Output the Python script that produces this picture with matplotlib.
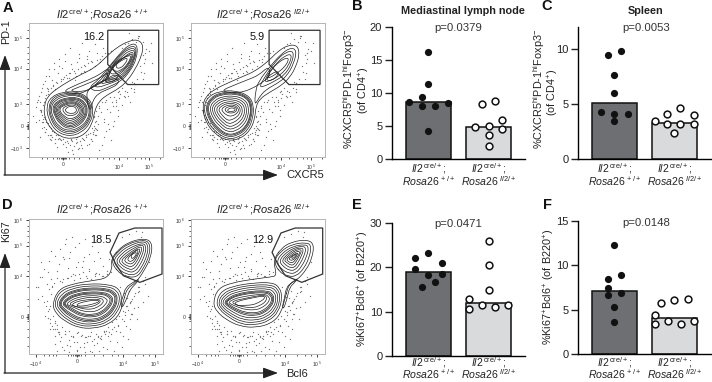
import matplotlib
matplotlib.use("Agg")
from matplotlib import pyplot as plt
from matplotlib.path import Path
from matplotlib.patches import PathPatch, Polygon

plt.rcParams['font.family'] = ['Liberation Sans', 'DejaVu Sans']
plt.rcParams['mathtext.fontset'] = 'custom'
plt.rcParams['mathtext.rm'] = 'Liberation Sans'
plt.rcParams['mathtext.it'] = 'Liberation Sans:italic'
plt.rcParams['mathtext.bf'] = 'Liberation Sans:bold'
plt.rcParams['mathtext.default'] = 'regular'

W, H = 712, 382

# bar panels
group_line1 = [r'$\mathit{Il2}^{\,cre/+}$;', r'$\mathit{Il2}^{\,cre/+}$;']
group_line2 = [r'$\mathit{Rosa26}^{\,+/+}$', r'$\mathit{Rosa26}^{\ \mathit{Il2/+}}$']

b_bars = [8.7, 4.9]
b_wt_x = [0, 0, -0.11, -0.32, 0.32, -0.11, 0.11, 0]
b_wt_y = [16.2, 11.4, 9.4, 8.7, 8.5, 8.0, 8.0, 4.3]
b_ko_x = [0.11, -0.11, 0.22, -0.23, 0, 0.22, 0, 0]
b_ko_y = [8.85, 8.3, 5.9, 4.9, 5.0, 4.5, 3.6, 2.0]

c_bars = [5.1, 3.3]
c_wt_x = [0.11, -0.11, 0, 0, -0.22, 0, 0.22, 0]
c_wt_y = [9.8, 9.5, 7.6, 6.0, 4.3, 4.1, 4.1, 3.5]
c_ko_x = [0.1, -0.12, 0.32, -0.33, -0.12, 0.1, 0.32, 0]
c_ko_y = [4.65, 4.1, 4.0, 3.5, 3.2, 3.2, 3.15, 2.35]

e_bars = [19.0, 12.0]
e_wt_x = [0, -0.22, 0.22, -0.22, 0, 0.22, 0.11, -0.11]
e_wt_y = [23.2, 22.1, 21.0, 19.6, 18.3, 18.4, 16.8, 15.5]
e_ko_x = [0, 0, 0, -0.33, -0.33, -0.11, 0.1, 0.32]
e_ko_y = [25.9, 20.5, 14.8, 12.9, 10.7, 11.5, 11.1, 11.6]

f_bars = [7.15, 4.05]
f_wt_x = [0, 0.11, -0.11, -0.11, -0.11, 0.11, 0, 0]
f_wt_y = [12.3, 8.9, 8.45, 7.5, 6.65, 6.9, 5.3, 3.6]
f_ko_x = [0, -0.22, 0.22, -0.33, -0.33, -0.11, 0.11, 0.33]
f_ko_y = [6.1, 5.8, 6.2, 4.4, 3.4, 3.75, 3.4, 3.75]

# flow plots, x/y in display channels (0-405, y runs downwards)
a_gate = [(238, 22), (392, 22), (392, 186), (298, 186), (238, 125)]
a2_gate = [(236, 22), (390, 22), (390, 186), (296, 186), (236, 125)]
d_gate = [(272, 42), (320, 27), (402, 27), (402, 165), (335, 190), (285, 170), (262, 135), (245, 100)]
d2_gate = [(272, 42), (315, 27), (398, 27), (398, 165), (335, 190), (285, 170), (262, 135), (245, 100)]

a_rings = [
    [(46, 250), (56, 222), (82, 200), (120, 176), (160, 154), (198, 136), (236, 100), (265, 74), (302, 54), (330, 50), (346, 68), (340, 100), (322, 138), (298, 174), (272, 198), (238, 216), (212, 236), (198, 266), (192, 304), (168, 338), (130, 351), (92, 343), (62, 316), (46, 282)],
    [(52, 252), (66, 224), (102, 208), (150, 208), (184, 230), (195, 262), (186, 302), (158, 332), (120, 343), (82, 328), (59, 292)],
    [(58, 255), (72, 225), (105, 212), (150, 212), (180, 232), (190, 262), (182, 300), (155, 326), (120, 337), (85, 322), (65, 290)],
    [(61, 255), (76, 228), (107, 216), (149, 215), (177, 234), (187, 262), (179, 298), (153, 322), (120, 332), (87, 317), (68, 288)],
    [(65, 255), (80, 232), (110, 220), (148, 218), (175, 236), (184, 262), (176, 296), (150, 318), (120, 327), (90, 313), (72, 286)],
    [(70, 255), (85, 236), (112, 226), (146, 224), (170, 240), (178, 262), (170, 292), (146, 313), (120, 321), (94, 306), (78, 282)],
    [(73, 256), (88, 238), (113, 229), (145, 227), (168, 242), (175, 263), (167, 290), (144, 309), (120, 316), (96, 302), (81, 281)],
    [(76, 258), (90, 240), (114, 232), (144, 230), (165, 244), (172, 264), (164, 288), (142, 305), (120, 312), (98, 299), (84, 280)],
    [(80, 258), (94, 243), (116, 235), (143, 234), (161, 247), (168, 265), (160, 286), (140, 301), (120, 307), (101, 295), (87, 278)],
    [(84, 258), (98, 246), (118, 238), (142, 238), (158, 250), (164, 266), (156, 284), (138, 297), (120, 302), (104, 291), (90, 276)],
    [(88, 258), (101, 248), (119, 241), (141, 241), (155, 252), (160, 266), (152, 282), (136, 292), (120, 296), (106, 286), (93, 274)],
    [(92, 258), (104, 250), (120, 244), (140, 244), (152, 254), (156, 266), (148, 280), (134, 288), (120, 290), (108, 282), (96, 272)],
    [(100, 260), (110, 252), (122, 248), (138, 248), (148, 256), (150, 266), (142, 276), (130, 280), (118, 280), (108, 274)],
    [(110, 260), (120, 252), (136, 252), (144, 260), (142, 270), (130, 274), (118, 272), (110, 266)],
    [(100, 208), (140, 188), (180, 172), (215, 155), (240, 135), (245, 160), (225, 178), (195, 192), (170, 208), (145, 215)],
    [(120, 206), (150, 194), (190, 178), (225, 160), (238, 148), (238, 166), (215, 180), (190, 196), (165, 208)],
    [(175, 230), (175, 205), (200, 185), (235, 170), (270, 168), (270, 185), (240, 200), (210, 212), (192, 235), (188, 262), (180, 258)],
    [(180, 195), (210, 172), (240, 135), (268, 100), (300, 66), (328, 62), (326, 108), (304, 148), (278, 176), (240, 194), (205, 208)],
    [(195, 190), (225, 165), (245, 130), (272, 100), (300, 72), (326, 70), (320, 112), (298, 152), (270, 174), (235, 186), (210, 195)],
    [(215, 185), (232, 160), (250, 130), (275, 100), (300, 78), (324, 76), (316, 116), (292, 154), (264, 172), (235, 180)],
    [(228, 178), (238, 155), (255, 128), (280, 102), (302, 84), (322, 82), (312, 118), (288, 152), (260, 168), (240, 174)],
    [(235, 170), (245, 148), (262, 125), (284, 106), (304, 90), (318, 88), (306, 122), (282, 150), (256, 164)],
    [(242, 150), (262, 122), (288, 104), (306, 94), (314, 94), (302, 124), (278, 148), (256, 156)],
    [(250, 130), (270, 112), (296, 100), (310, 98), (298, 126), (274, 146), (258, 146)],
    [(260, 128), (278, 114), (300, 103), (290, 126), (270, 140)],
    [(228, 178), (240, 165), (262, 155), (270, 165), (250, 180)],
]

a2_rings = [
    [(34, 255), (44, 222), (72, 200), (112, 181), (158, 161), (193, 146), (233, 116), (263, 85), (295, 66), (322, 68), (328, 95), (317, 132), (299, 164), (273, 189), (238, 209), (208, 229), (196, 253), (193, 288), (180, 324), (148, 351), (110, 356), (72, 336), (44, 299)],
    [(38, 255), (50, 224), (85, 206), (135, 204), (176, 220), (190, 250), (187, 287), (174, 322), (144, 346), (110, 351), (75, 330), (48, 296)],
    [(44, 255), (58, 226), (90, 210), (135, 208), (172, 222), (186, 250), (183, 285), (170, 318), (142, 340), (110, 345), (78, 325), (54, 292)],
    [(47, 255), (61, 228), (91, 213), (134, 211), (170, 224), (183, 251), (180, 284), (167, 316), (141, 336), (110, 341), (80, 321), (57, 291)],
    [(50, 255), (64, 230), (92, 216), (134, 214), (168, 226), (181, 252), (178, 284), (165, 314), (140, 333), (110, 338), (82, 318), (60, 290)],
    [(56, 256), (70, 234), (96, 222), (132, 220), (163, 231), (175, 254), (172, 284), (160, 308), (137, 326), (111, 330), (87, 312), (66, 288)],
    [(62, 257), (76, 238), (100, 227), (131, 226), (158, 236), (169, 256), (166, 283), (154, 303), (134, 318), (112, 322), (91, 306), (72, 285)],
    [(68, 258), (82, 242), (104, 232), (130, 232), (153, 241), (163, 258), (160, 281), (148, 298), (131, 310), (113, 314), (95, 300), (78, 282)],
    [(75, 259), (88, 246), (107, 238), (130, 238), (148, 246), (156, 260), (153, 279), (142, 292), (128, 301), (113, 305), (98, 293), (84, 279)],
    [(82, 260), (95, 249), (110, 243), (129, 243), (143, 250), (150, 262), (146, 276), (136, 286), (124, 292), (112, 295), (100, 285), (90, 274)],
    [(92, 260), (102, 252), (114, 248), (130, 248), (140, 255), (145, 264), (138, 274), (128, 280), (115, 282), (103, 275), (96, 268)],
    [(102, 260), (112, 253), (128, 252), (138, 258), (138, 266), (128, 272), (114, 272), (105, 267)],
    [(110, 262), (120, 256), (132, 258), (134, 265), (122, 268), (112, 267)],
    [(90, 205), (130, 188), (170, 172), (205, 158), (235, 130), (240, 160), (215, 180), (190, 195), (160, 208), (125, 212)],
    [(195, 205), (205, 175), (240, 130), (270, 96), (300, 74), (320, 82), (310, 125), (288, 162), (262, 182), (225, 202), (205, 226), (192, 250)],
    [(205, 195), (225, 160), (255, 116), (285, 88), (312, 84), (304, 125), (282, 158), (254, 175), (225, 190)],
    [(220, 180), (235, 150), (260, 120), (285, 98), (306, 94), (296, 128), (272, 156), (245, 172)],
    [(228, 168), (242, 142), (265, 118), (290, 104), (296, 112), (282, 134), (262, 150), (245, 162)],
    [(225, 172), (240, 155), (262, 145), (265, 155), (245, 175)],
]

d_rings = [
    [(70, 258), (88, 212), (130, 195), (190, 185), (235, 178), (252, 150), (248, 120), (270, 92), (300, 70), (345, 58), (372, 68), (370, 112), (347, 157), (322, 192), (297, 207), (287, 240), (274, 287), (242, 316), (195, 329), (148, 326), (108, 306), (83, 285)],
    [(76, 255), (92, 218), (130, 202), (180, 194), (240, 196), (272, 208), (282, 240), (268, 280), (238, 310), (195, 322), (150, 320), (112, 300), (88, 278)],
    [(82, 255), (98, 224), (132, 208), (180, 200), (238, 202), (266, 214), (276, 240), (263, 276), (235, 304), (195, 316), (152, 314), (116, 295), (94, 274)],
    [(88, 255), (104, 228), (134, 214), (180, 206), (235, 208), (260, 219), (269, 240), (258, 272), (232, 298), (195, 310), (154, 307), (120, 290), (99, 271)],
    [(91, 255), (107, 230), (135, 217), (180, 209), (233, 211), (257, 222), (266, 240), (255, 270), (230, 295), (195, 306), (155, 303), (122, 286), (102, 270)],
    [(94, 254), (110, 232), (136, 220), (180, 212), (232, 214), (254, 224), (262, 240), (252, 268), (228, 291), (195, 302), (156, 299), (125, 283), (105, 268)],
    [(100, 254), (116, 236), (140, 225), (181, 218), (229, 220), (247, 229), (255, 241), (246, 264), (224, 285), (195, 295), (158, 292), (130, 277), (111, 265)],
    [(103, 254), (119, 238), (142, 228), (181, 221), (227, 223), (244, 232), (251, 242), (243, 262), (222, 281), (195, 291), (159, 288), (132, 274), (114, 263)],
    [(106, 254), (122, 240), (144, 230), (182, 224), (226, 226), (240, 234), (247, 242), (239, 260), (220, 278), (195, 287), (160, 285), (135, 271), (117, 261)],
    [(113, 255), (128, 243), (148, 235), (184, 229), (222, 232), (232, 239), (238, 244), (231, 257), (215, 271), (194, 279), (162, 277), (138, 266), (122, 260)],
    [(120, 256), (135, 246), (154, 240), (186, 234), (216, 237), (226, 244), (222, 254), (208, 264), (190, 271), (164, 270), (143, 263)],
    [(128, 257), (146, 247), (176, 242), (208, 240), (218, 246), (208, 256), (186, 264), (160, 265), (140, 263)],
    [(142, 256), (170, 247), (204, 243), (214, 247), (198, 254), (172, 260), (150, 262)],
    [(248, 125), (270, 96), (300, 74), (345, 62), (366, 72), (364, 110), (345, 150), (325, 176), (290, 172), (265, 155)],
    [(254, 125), (274, 100), (302, 80), (344, 66), (360, 76), (358, 108), (340, 146), (322, 168), (294, 166), (270, 150)],
    [(262, 126), (280, 104), (305, 86), (342, 72), (354, 80), (351, 106), (335, 140), (318, 160), (298, 158), (276, 145)],
    [(270, 126), (286, 108), (308, 92), (340, 76), (348, 84), (344, 104), (330, 134), (315, 152), (300, 150), (282, 140)],
    [(278, 125), (292, 111), (311, 97), (336, 82), (342, 88), (337, 104), (326, 128), (312, 144), (300, 142), (287, 135)],
    [(288, 122), (300, 110), (314, 100), (332, 88), (336, 94), (330, 106), (322, 124), (310, 136), (300, 133), (292, 130)],
    [(298, 118), (310, 106), (328, 92), (330, 100), (322, 116), (310, 128), (300, 126)],
    [(308, 110), (318, 102), (326, 100), (320, 114), (310, 120)],
    [(285, 230), (292, 205), (315, 190), (335, 178), (322, 195), (305, 212), (295, 240), (280, 270), (278, 250)],
]

d2_rings = [
    [(66, 252), (81, 208), (125, 191), (185, 181), (240, 174), (260, 170), (248, 125), (272, 88), (305, 68), (352, 62), (372, 76), (366, 117), (349, 152), (320, 184), (297, 194), (287, 227), (272, 284), (242, 314), (195, 326), (148, 322), (106, 302), (78, 278)],
    [(76, 250), (90, 218), (125, 202), (185, 192), (245, 190), (268, 205), (276, 235), (265, 278), (236, 306), (195, 318), (152, 316), (114, 295), (86, 272)],
    [(82, 250), (96, 224), (128, 208), (185, 198), (242, 197), (263, 210), (270, 236), (260, 274), (233, 300), (195, 311), (154, 309), (118, 290), (91, 269)],
    [(88, 250), (102, 228), (130, 214), (185, 204), (239, 203), (258, 215), (264, 237), (255, 270), (229, 294), (195, 304), (156, 302), (122, 285), (96, 266)],
    [(94, 250), (108, 232), (133, 220), (185, 210), (236, 209), (252, 220), (258, 238), (250, 266), (225, 288), (195, 297), (158, 295), (126, 279), (102, 263)],
    [(100, 250), (114, 236), (137, 225), (185, 216), (233, 215), (246, 225), (252, 239), (244, 262), (221, 282), (195, 290), (160, 288), (130, 274), (108, 260)],
    [(103, 250), (117, 238), (139, 228), (185, 219), (231, 218), (243, 228), (249, 240), (241, 260), (219, 279), (195, 286), (161, 284), (132, 271), (111, 258)],
    [(106, 250), (120, 239), (141, 230), (186, 222), (229, 221), (240, 230), (245, 240), (238, 258), (217, 275), (195, 282), (162, 280), (134, 268), (114, 256)],
    [(113, 250), (128, 241), (147, 235), (188, 228), (225, 225), (235, 234), (238, 241), (231, 254), (213, 267), (194, 273), (164, 272), (138, 263), (120, 255)],
    [(122, 250), (138, 243), (156, 240), (192, 232), (222, 228), (230, 236), (224, 250), (207, 260), (190, 266), (165, 265), (140, 259)],
    [(130, 252), (150, 244), (190, 236), (220, 230), (224, 238), (206, 250), (186, 258), (162, 259), (140, 260)],
    [(250, 125), (272, 96), (305, 76), (348, 70), (364, 80), (358, 114), (342, 148), (318, 172), (293, 172), (265, 158)],
    [(258, 126), (278, 100), (308, 82), (344, 76), (356, 84), (350, 112), (335, 142), (316, 163), (295, 163), (272, 150)],
    [(266, 126), (284, 104), (310, 87), (338, 81), (348, 88), (342, 110), (329, 136), (314, 154), (297, 154), (279, 143)],
    [(274, 125), (290, 107), (312, 91), (334, 86), (340, 92), (335, 108), (324, 130), (312, 146), (299, 146), (285, 137)],
    [(281, 124), (295, 109), (314, 95), (330, 91), (334, 96), (329, 108), (319, 126), (310, 138), (300, 138), (290, 131)],
    [(288, 122), (300, 111), (316, 99), (328, 96), (328, 104), (316, 122), (308, 131), (300, 131), (294, 127)],
    [(296, 119), (306, 110), (318, 103), (324, 102), (314, 119), (306, 124), (299, 123)],
    [(304, 115), (314, 107), (320, 106), (312, 116), (305, 119)],
    [(282, 240), (288, 205), (305, 190), (325, 176), (312, 192), (298, 205), (290, 240), (280, 270), (276, 262)],
]

# background events, shared by the two plots of a row
a_dots_x = [20, 28, 35, 12, 42, 50, 22, 38, 60, 70, 55, 33, 48, 62, 75, 88, 100, 115, 92, 108, 130, 145, 125, 150, 168, 138, 160, 175, 190, 205, 182, 215, 225, 198, 240, 212, 228, 250, 262, 244, 276, 290, 310, 335, 352, 362, 345, 330, 370, 348, 318, 300, 280, 268, 255, 232, 208, 226, 248, 200, 222, 212, 242, 258, 270, 230, 218, 196, 204, 186, 172, 158, 146, 130, 112, 96, 80, 66, 52, 42, 36, 30, 44, 58, 72, 86, 104, 122, 140, 156, 170, 184, 198, 176, 150, 128, 110, 92, 76, 60, 48, 40, 25, 34, 68, 84, 118, 134, 152, 78, 98, 120, 142, 165, 56, 30, 64, 90, 104, 126, 146, 166, 210, 236, 262, 290, 318, 346, 300, 328, 352, 372, 272, 282, 306, 240,
            43, 37, 41, 33, 47, 39, 52, 45, 58, 49, 66, 57, 74, 69, 83, 78, 96, 87, 105, 113, 97, 124, 117, 137, 131, 149, 143, 157, 166, 161, 177, 171, 188, 183, 194, 205, 199, 214, 221, 231, 226, 247, 253, 264, 273, 286, 296, 307, 316, 327, 338, 349, 344, 355, 333, 322, 302, 312, 291, 281, 269, 258, 246, 234, 222, 211, 203, 197, 201, 195, 207, 193, 199, 189, 204, 196, 186, 179, 191, 172, 182, 164, 174, 154, 161, 142, 149, 128, 136, 116, 123, 103, 109, 89, 94, 77, 81, 65, 70, 56, 60, 48, 52, 40, 44, 35]
a_dots_y = [255, 232, 210, 280, 185, 160, 300, 318, 140, 172, 195, 262, 330, 350, 120, 150, 135, 165, 108, 95, 140, 118, 75, 95, 130, 152, 60, 100, 118, 90, 85, 118, 75, 62, 90, 258, 290, 240, 232, 270, 215, 205, 178, 130, 110, 85, 58, 40, 60, 150, 198, 220, 248, 280, 310, 325, 305, 345, 355, 340, 370, 385, 320, 295, 262, 240, 270, 285, 320, 350, 338, 368, 360, 385, 375, 355, 362, 340, 320, 300, 270, 220, 240, 200, 190, 180, 170, 165, 172, 150, 148, 140, 130, 110, 105, 125, 115, 130, 140, 160, 175, 195, 240, 345, 355, 375, 390, 395, 378, 198, 175, 150, 160, 145, 215, 292, 340, 348, 365, 355, 345, 355, 280, 260, 250, 225, 210, 170, 60, 45, 90, 120, 205, 195, 240, 305,
            248, 266, 290, 240, 226, 300, 218, 315, 205, 330, 195, 340, 188, 345, 178, 352, 170, 350, 163, 158, 355, 152, 362, 146, 357, 140, 352, 134, 128, 348, 122, 340, 116, 332, 328, 112, 318, 108, 100, 92, 298, 84, 250, 240, 228, 220, 208, 196, 182, 168, 148, 122, 96, 78, 40, 58, 30, 48, 64, 76, 208, 225, 224, 232, 240, 250, 265, 280, 295, 310, 322, 336, 300, 318, 340, 322, 352, 335, 358, 344, 366, 352, 370, 358, 378, 362, 380, 352, 372, 356, 368, 352, 360, 340, 350, 328, 338, 318, 325, 302, 310, 290, 298, 278, 285, 262]
d_dots_x = [20, 32, 46, 60, 38, 52, 68, 80, 95, 110, 125, 140, 92, 105, 118, 132, 148, 165, 180, 195, 210, 225, 172, 155, 135, 118, 100, 85, 70, 55, 40, 28, 48, 62, 78, 60, 44, 72, 90, 108, 128, 148, 168, 188, 208, 228, 248, 268, 288, 308, 328, 345, 360, 330, 306, 285, 262, 240, 218, 196, 175, 155, 135, 115, 95, 78, 62, 85, 105, 125, 145, 165, 185, 205, 225, 245, 265, 285, 305, 325, 300, 280, 258, 235, 212, 190, 168, 145, 122, 100, 80, 200, 180, 160, 215, 235, 190, 170, 150, 130, 112, 58, 36, 26, 66, 84, 102, 122, 142, 162, 182, 202, 222, 242, 262, 282, 302, 322, 342, 362, 350, 332, 312, 292, 272, 252, 232,
            64, 58, 55, 67, 73, 61, 79, 70, 86, 77, 93, 84, 103, 92, 114, 101, 126, 110, 138, 121, 151, 133, 164, 146, 176, 159, 188, 171, 200, 185, 212, 197, 224, 209, 237, 219, 248, 230, 262, 243, 275, 256, 287, 268, 297, 281, 306, 291, 318, 300, 312, 296, 304, 289, 321, 308, 333, 316, 344, 352, 328, 340, 302, 288, 276, 292, 264, 251, 239, 226, 214, 203, 191, 179, 167, 156, 144, 132, 120, 108, 97, 88, 79, 71, 63, 56]
d_dots_y = [205, 175, 150, 125, 230, 260, 95, 110, 90, 75, 100, 85, 135, 120, 148, 165, 130, 115, 150, 125, 98, 140, 170, 178, 182, 178, 190, 178, 205, 195, 175, 240, 290, 300, 312, 270, 250, 330, 345, 335, 350, 340, 355, 340, 350, 338, 345, 320, 305, 285, 265, 250, 230, 220, 250, 275, 300, 325, 360, 378, 370, 385, 368, 378, 365, 350, 330, 395, 392, 380, 395, 385, 395, 372, 385, 365, 370, 350, 330, 300, 360, 385, 395, 390, 395, 400, 398, 392, 398, 385, 375, 165, 155, 145, 118, 155, 80, 60, 72, 55, 60, 160, 130, 205, 180, 155, 115, 118, 145, 125, 105, 162, 170, 120, 98, 55, 45, 35, 40, 130, 195, 215, 240, 260, 290, 310, 335,
            262, 275, 245, 225, 290, 210, 305, 200, 318, 192, 186, 330, 180, 338, 176, 325, 172, 345, 168, 335, 165, 352, 160, 342, 176, 348, 180, 355, 172, 350, 165, 360, 172, 355, 165, 350, 158, 345, 150, 338, 205, 325, 222, 318, 238, 300, 252, 288, 268, 272, 285, 262, 300, 280, 222, 245, 205, 232, 186, 175, 205, 55, 215, 235, 340, 322, 335, 330, 350, 335, 358, 345, 365, 350, 372, 352, 368, 355, 362, 345, 355, 338, 330, 320, 312, 298]

a_minor_x = [40, 55, 72, 85, 92, 98, 100, 102, 104, 106, 108, 112, 120, 136, 150, 180, 205, 225, 242, 256, 272, 295, 320, 338, 352, 364, 395]
a_minor_y = [22, 45, 72, 92, 108, 122, 138, 170, 195, 215, 230, 246, 275, 300, 305, 308, 311, 314, 317, 320, 345, 378]
d_minor_x = [20, 45, 60, 72, 82, 118, 126, 132, 138, 142, 145, 148, 152, 158, 170, 195, 225, 250, 268, 285, 320, 345, 362, 380]
d_minor_y = [4, 20, 36, 52, 68, 80, 112, 135, 155, 172, 205, 240, 262, 285, 289, 292, 295, 298, 301, 305, 330, 355, 380]

a_xticks = [104, 272, 364]
a_xlabels = ['0', r'$10^{\ 4}$', r'$10^{\ 5}$']
a_yticks = [45, 138, 246, 311, 378]
a_ylabels = [r'$10^{\ 5}$', r'$10^{\ 4}$', r'$10^{\ 3}$', '0', r'$-10^{\ 3}$']
d_xticks = [20, 145, 285, 380]
d_xlabels = [r'$-10^{\ 4}$', '0', r'$10^{\ 4}$', r'$10^{\ 5}$']
d_yticks = [4, 80, 172, 295]
d_ylabels = [r'$10^{\ 6}$', r'$10^{\ 5}$', r'$10^{\ 4}$', '0']


def px_axes(fig, left, top, right, bottom):
    return fig.add_axes([left / W, 1 - bottom / H, (right - left) / W, (bottom - top) / H])


def ring_patch(pts):
    # smooth closed line through the traced ring
    mids = [((pts[i][0] + pts[(i + 1) % len(pts)][0]) / 2, (pts[i][1] + pts[(i + 1) % len(pts)][1]) / 2) for i in range(len(pts))]
    verts = [mids[-1]]
    codes = [Path.MOVETO]
    for i in range(len(pts)):
        verts += [pts[i], mids[i]]
        codes += [Path.CURVE3, Path.CURVE3]
    return PathPatch(Path(verts, codes), fill=False, ec='#1d1d1d', lw=0.5)


def flow_panel(fig, box, rings, gate, dots_x, dots_y, pct, pct_xy, xt, xl, yt, yl, minor_x, minor_y):
    ax = px_axes(fig, *box)
    ax.set_xlim(0, 405)
    ax.set_ylim(405, 0)
    ax.scatter(dots_x, dots_y, s=0.9, c='#777777', lw=0)
    for r in rings:
        ax.add_patch(ring_patch(r))
    ax.add_patch(Polygon(gate, closed=True, fill=False, ec='#333333', lw=0.9))
    ax.text(pct_xy[0], pct_xy[1], pct, fontsize=7.8, ha='center', va='center', color='#111111')
    for s in ax.spines.values():
        s.set_color('#b5b5b5')
        s.set_linewidth(0.7)
    ax.set_xticks(xt, xl, fontsize=3.6, color='#333333')
    ax.set_yticks(yt, yl, fontsize=3.6, color='#333333')
    ax.set_xticks(minor_x, minor=True)
    ax.set_yticks(minor_y, minor=True)
    ax.tick_params(which='major', length=2.4, width=0.6, pad=1.5, color='#222222')
    ax.tick_params(which='minor', length=1.3, width=0.5, color='#222222')
    return ax


def bar_panel(fig, box, bars, wt_x, wt_y, ko_x, ko_y, ymax, yticks, xlim):
    ax = px_axes(fig, *box)
    ax.bar([0, 1], bars, width=0.75, color=['#6e6f73', '#d9dadb'], edgecolor='#111111', linewidth=1.1, zorder=2)
    ax.scatter(wt_x, wt_y, s=27, c='#111111', lw=0, zorder=3, clip_on=False)
    ax.scatter([1 + v for v in ko_x], ko_y, s=24, c='white', edgecolors='#111111', linewidths=1.1, zorder=3, clip_on=False)
    ax.set_xlim(*xlim)
    ax.set_ylim(0, ymax)
    ax.set_yticks(yticks)
    ax.set_xticks([])
    ax.tick_params(axis='y', length=5, width=1.0, labelsize=8, pad=2, color='#222222', labelcolor='#222222')
    ax.spines['top'].set_visible(False)
    ax.spines['right'].set_visible(False)
    ax.spines['left'].set_linewidth(1.0)
    ax.spines['bottom'].set_linewidth(1.0)
    ax.patch.set_alpha(0)
    return ax


fig = plt.figure(figsize=(W / 100, H / 100), dpi=100)

flow_panel(fig, (29, 23, 163, 157), a_rings, a_gate, a_dots_x, a_dots_y, '16.2', (195, 42), a_xticks, a_xlabels, a_yticks, a_ylabels, a_minor_x, a_minor_y)
flow_panel(fig, (191, 23, 325, 157), a2_rings, a2_gate, a_dots_x, a_dots_y, '5.9', (200, 42), a_xticks, a_xlabels, a_yticks, a_ylabels, a_minor_x, a_minor_y)
flow_panel(fig, (29, 219, 163, 354), d_rings, d_gate, d_dots_x, d_dots_y, '18.5', (218, 62), d_xticks, d_xlabels, d_yticks, d_ylabels, d_minor_x, d_minor_y)
flow_panel(fig, (191, 219, 325, 354), d2_rings, d2_gate, d_dots_x, d_dots_y, '12.9', (218, 62), d_xticks, d_xlabels, d_yticks, d_ylabels, d_minor_x, d_minor_y)

bar_panel(fig, (392, 27, 525, 159), b_bars, b_wt_x, b_wt_y, b_ko_x, b_ko_y, 20, [0, 5, 10, 15, 20], (-0.608, 1.608))
bar_panel(fig, (578, 27, 712, 159), c_bars, c_wt_x, c_wt_y, c_ko_x, c_ko_y, 12, [0, 5, 10], (-0.608, 1.625))
bar_panel(fig, (392, 223, 525, 356), e_bars, e_wt_x, e_wt_y, e_ko_x, e_ko_y, 30, [0, 10, 20, 30], (-0.608, 1.608))
bar_panel(fig, (578, 221, 712, 354), f_bars, f_wt_x, f_wt_y, f_ko_x, f_ko_y, 15, [0, 5, 10, 15], (-0.608, 1.625))

# overlay in pixels for arrows and free labels
top = fig.add_axes([0, 0, 1, 1])
top.set_xlim(0, W)
top.set_ylim(H, 0)
top.axis('off')
top.patch.set_alpha(0)

for y0, y1 in [(175, 55), (373, 253)]:
    top.annotate('', xy=(5, y1), xytext=(5, y0), arrowprops=dict(arrowstyle='-|>,head_length=0.9,head_width=0.33', color='#222222', lw=0.9, shrinkA=0, shrinkB=0))
    top.annotate('', xy=(278, y0), xytext=(4, y0), arrowprops=dict(arrowstyle='-|>,head_length=0.9,head_width=0.33', color='#222222', lw=0.9, shrinkA=0, shrinkB=0))

top.text(305, 175, 'CXCR5', fontsize=8, ha='center', va='center', color='#222222')
top.text(297, 374, 'Bcl6', fontsize=8, ha='center', va='center', color='#222222')
top.text(6, 32, 'PD-1', fontsize=7.8, rotation=90, ha='center', va='center', color='#222222')
top.text(6, 231, 'Ki67', fontsize=7.8, rotation=90, ha='center', va='center', color='#222222')

title_wt = r'$\mathit{Il2}^{\,cre/+}$;$\mathit{Rosa26}^{\,+/+}$'
title_ko = r'$\mathit{Il2}^{\,cre/+}$;$\mathit{Rosa26}^{\ \mathit{Il2/+}}$'
top.text(102, 15, title_wt, fontsize=8, ha='center', va='center', color='#222222')
top.text(263, 15, title_ko, fontsize=8, ha='center', va='center', color='#222222')
top.text(102, 210, title_wt, fontsize=8, ha='center', va='center', color='#222222')
top.text(263, 210, title_ko, fontsize=8, ha='center', va='center', color='#222222')

for x, y, s in [(8, 8, 'A'), (357, 6, 'B'), (547, 6, 'C'), (7, 205, 'D'), (357, 205, 'E'), (547, 205, 'F')]:
    top.text(x, y, s, fontsize=10.5, fontweight='bold', ha='center', va='center', color='#111111')

top.text(463, 11, 'Mediastinal lymph node', fontsize=7.8, fontweight='bold', ha='center', va='center', color='#222222')
top.text(646, 11, 'Spleen', fontsize=7.8, fontweight='bold', ha='center', va='center', color='#222222')

for x, y, s in [(458, 28, 'p=0.0379'), (646, 28, 'p=0.0053'), (458, 224, 'p=0.0471'), (646, 223, 'p=0.0148')]:
    top.text(x, y, s, fontsize=8.2, ha='center', va='center', color='#333333')

cx = [428.5, 488.5, 614.5, 674.5]
for y1, y2 in [(169, 181), (363, 374.5)]:
    for i, x in enumerate(cx):
        top.text(x, y1, group_line1[i % 2], fontsize=7.6, ha='center', va='center', color='#222222')
        top.text(x, y2, group_line2[i % 2], fontsize=7.6, ha='center', va='center', color='#222222')

ylab_cd4 = r'%CXCR5$^{hi}$PD-1$^{hi}$Foxp3$^{-}$'
ylab_of = r'(of CD4$^{+}$)'
ylab_k = r'%Ki67$^{+}$Bcl6$^{+}$ (of B220$^{+}$)'
top.text(349, 89, ylab_cd4, fontsize=7.8, rotation=90, ha='center', va='center', color='#222222')
top.text(364, 90, ylab_of, fontsize=7.8, rotation=90, ha='center', va='center', color='#222222')
top.text(539, 89, ylab_cd4, fontsize=7.8, rotation=90, ha='center', va='center', color='#222222')
top.text(553, 92, ylab_of, fontsize=7.8, rotation=90, ha='center', va='center', color='#222222')
top.text(363, 289, ylab_k, fontsize=7.8, rotation=90, ha='center', va='center', color='#222222')
top.text(549, 287, ylab_k, fontsize=7.8, rotation=90, ha='center', va='center', color='#222222')

plt.savefig('out.png', dpi=100)
